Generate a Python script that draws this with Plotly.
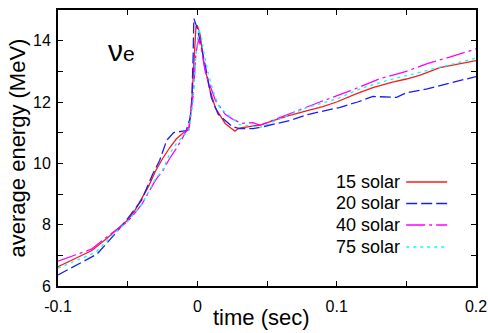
import plotly.graph_objects as go

# ---- data ----
x15 = [-0.100, -0.076, -0.065, -0.055, -0.050, -0.045, -0.040, -0.035, -0.030, -0.025, -0.020, -0.015, -0.010, -0.006,
       -0.004, -0.002, -0.001, 0.000, 0.002, 0.005, 0.009, 0.013, 0.017, 0.020, 0.024, 0.027, 0.030, 0.035, 0.045,
       0.055, 0.065, 0.079, 0.090, 0.100, 0.113, 0.126, 0.140, 0.150, 0.160, 0.174, 0.185, 0.200]
y15 = [6.63, 7.15, 7.55, 7.95, 8.15, 8.45, 8.85, 9.25, 9.75, 10.15, 10.5, 10.8, 11.0, 11.1,
       12.0, 13.6, 14.45, 14.5, 14.2, 13.2, 12.4, 11.8, 11.5, 11.3, 11.15, 11.05, 11.15, 11.18, 11.25,
       11.4, 11.55, 11.72, 11.85, 12.0, 12.25, 12.47, 12.65, 12.75, 12.88, 13.12, 13.22, 13.35]

x20 = [-0.100, -0.072, -0.060, -0.050, -0.040, -0.032, -0.027, -0.022, -0.017, -0.008, -0.005, -0.004, -0.003,
       -0.0025, 0.000, 0.003, 0.006, 0.010, 0.015, 0.020, 0.025, 0.030, 0.040, 0.045, 0.055, 0.0665, 0.080,
       0.102, 0.115, 0.126, 0.143, 0.150, 0.165, 0.180, 0.200]
y20 = [6.36, 7.04, 7.65, 8.2, 8.8, 9.65, 10.1, 10.75, 11.0, 11.07, 11.5, 12.05, 13.5,
       14.72, 14.4, 13.8, 13.12, 12.15, 11.6, 11.4, 11.2, 11.13, 11.13, 11.17, 11.28, 11.4, 11.6,
       11.82, 12.0, 12.18, 12.15, 12.3, 12.43, 12.6, 12.83]

x40 = [-0.100, -0.076, -0.065, -0.055, -0.050, -0.040, -0.035, -0.030, -0.0246, -0.020, -0.0146, -0.0088,
       -0.006, -0.003, -0.001, 0.001, 0.003, 0.006, 0.013, 0.020, 0.025, 0.032, 0.040, 0.045, 0.054, 0.065,
       0.0787, 0.088, 0.110, 0.131, 0.150, 0.165, 0.180, 0.200]
y40 = [6.81, 7.2, 7.6, 7.95, 8.1, 8.65, 9.05, 9.45, 9.77, 10.15, 10.52, 11.0,
       11.2, 12.2, 13.6, 14.06, 13.7, 12.93, 12.05, 11.6, 11.45, 11.3, 11.33, 11.24, 11.4, 11.6,
       11.82, 12.0, 12.37, 12.76, 13.0, 13.25, 13.45, 13.73]

x75 = [-0.100, -0.073, -0.060, -0.050, -0.040, -0.030, -0.025, -0.020, -0.015, -0.010, -0.006, -0.003,
       -0.001, 0.001, 0.003, 0.004, 0.008, 0.011, 0.015, 0.020, 0.027, 0.030, 0.040, 0.045, 0.054, 0.0787,
       0.100, 0.118, 0.136, 0.160, 0.180, 0.200]
y75 = [6.58, 7.1, 7.7, 8.1, 8.65, 9.5, 9.77, 10.3, 10.65, 10.9, 11.05, 12.05,
       13.5, 14.4, 14.1, 13.77, 12.9, 12.4, 11.9, 11.65, 11.4, 11.27, 11.2, 11.17, 11.35, 11.82,
       12.1, 12.45, 12.7, 12.96, 13.2, 13.43]

names = ["15 solar", "20 solar", "40 solar", "75 solar"]
colors = ["#ff1a1a", "#1a1aff", "#ff00ff", "#00ffff"]
dashes = ["solid", "11px,4px", "19px,4px,3px,4px", "3px,4px"]

xtick_vals = [-0.1, 0, 0.1, 0.2]
xtick_text = ["-0.1", "0", "0.1", "0.2"]
ytick_vals = [6, 8, 10, 12, 14]

FONT = "Liberation Sans, Arial, Helvetica, sans-serif"

fig = go.Figure()
for xs, ys, n, c, d in zip([x15, x20, x40, x75], [y15, y20, y40, y75], names, colors, dashes):
    fig.add_trace(go.Scatter(x=xs, y=ys, mode="lines", name=n,
                             line=dict(color=c, width=1.3, dash=d), showlegend=False))

# legend (text right-aligned, sample line to the right)
leg_y = [0.377, 0.299, 0.221, 0.141]
for n, c, d, yy in zip(names, colors, dashes, leg_y):
    fig.add_annotation(xref="paper", yref="paper", x=0.822, y=yy, text=n, showarrow=False,
                       xanchor="right", yanchor="middle", font=dict(family=FONT, size=18, color="black"))
    fig.add_shape(type="line", xref="paper", yref="paper", x0=0.833, x1=0.931, y0=yy, y1=yy,
                  line=dict(color=c, width=1.5, dash=d))

fig.add_annotation(xref="paper", yref="paper", x=0.115, y=0.855, showarrow=False,
                   xanchor="left", yanchor="middle",
                   text="<span style='font-size:30px'>ν</span><span style='font-size:21px'>e</span>",
                   font=dict(family=FONT, color="black"))

# axis titles as paper annotations for exact placement
fig.add_annotation(xref="paper", yref="paper", x=0.488, y=-0.115, yanchor="middle", xanchor="center",
                   showarrow=False, text="time (sec)", font=dict(family=FONT, size=22, color="black"))
fig.add_annotation(xref="paper", yref="paper", x=-0.097, y=0.5, yanchor="middle", xanchor="center",
                   showarrow=False, text="average energy (MeV)", textangle=-90,
                   font=dict(family=FONT, size=22, color="black"))

axis_common = dict(showline=True, linecolor="black", linewidth=2, mirror="ticks",
                   ticks="inside", ticklen=5, tickwidth=1.3, tickcolor="black",
                   showgrid=False, zeroline=False, automargin=False,
                   tickfont=dict(family=FONT, size=16, color="black"))

fig.update_xaxes(range=[-0.1, 0.2], tickvals=xtick_vals, ticktext=xtick_text, ticklabelstandoff=5,
                 minor=dict(dtick=0.05, tick0=0, ticks="inside", ticklen=5, tickcolor="black", tickwidth=1.3),
                 **axis_common)
fig.update_yaxes(range=[6, 15], tickvals=ytick_vals, ticklabelstandoff=2,
                 minor=dict(dtick=1, tick0=0, ticks="inside", ticklen=5, tickcolor="black", tickwidth=1.3),
                 **axis_common)

fig.update_layout(width=488, height=333, margin=dict(l=58, r=12, t=10, b=47),
                  plot_bgcolor="white", paper_bgcolor="white")

fig.write_html("out.html")
